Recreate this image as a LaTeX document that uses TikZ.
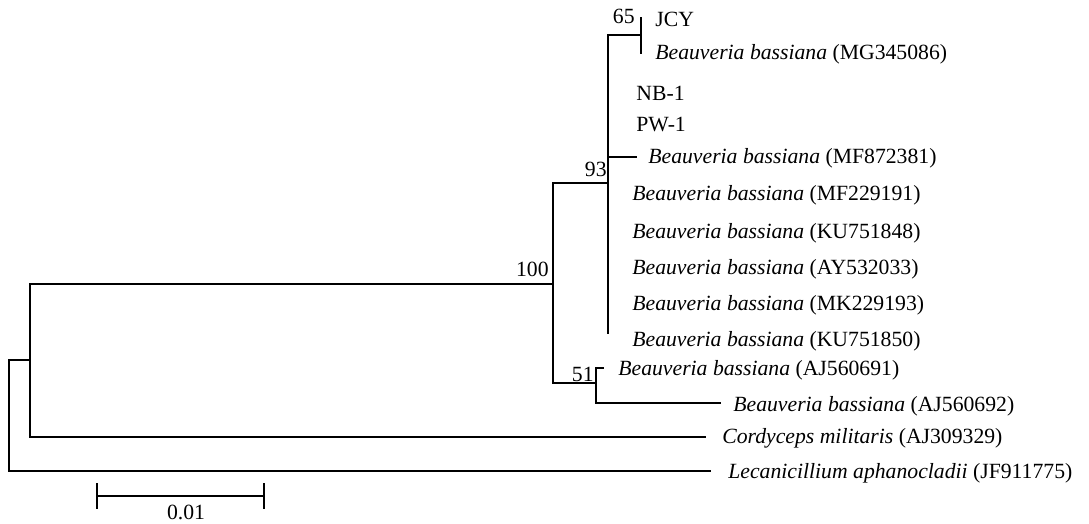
\documentclass[tikz,border=0pt]{standalone}
\usepackage{fontspec}
\setmainfont{Liberation Serif}
\begin{document}
\begin{tikzpicture}[x=0.5pt,y=-0.5pt,
  br/.style={line width=0.9pt,line cap=rect},
  lab/.style={anchor=base west,inner sep=0pt,font=\fontsize{10.85}{13}\selectfont},
  bs/.style={anchor=base east,inner sep=0pt,font=\fontsize{10.85}{13}\selectfont}]
\useasboundingbox[fill=white] (0,0) rectangle (1089,524);
% internal nodes
\coordinate (r) at (9,360);
\coordinate (a) at (30,360);
\coordinate (b) at (553,284);
\coordinate (c) at (608,183);
\coordinate (d) at (641,35);
\coordinate (e) at (596,383);
% leaf ends
\coordinate (lJCY) at (641,18);
\coordinate (lMG) at (641,53);
\coordinate (lMF8) at (636,157);
\coordinate (cbot) at (608,333);
\coordinate (lAJ1) at (603,368);
\coordinate (lAJ2) at (720,403);
\coordinate (lCor) at (705,437);
\coordinate (lLec) at (710,471);
% labels
\node[lab] (t1) at (655,27) {JCY};
\node[lab] (t2) at (655,60) {\textit{Beauveria bassiana} (MG345086)};
\node[lab] (t3) at (636,101) {NB-1};
\node[lab] (t4) at (636,132) {PW-1};
\node[lab] (t5) at (648,164) {\textit{Beauveria bassiana} (MF872381)};
\node[lab] (t6) at (632,201) {\textit{Beauveria bassiana} (MF229191)};
\node[lab] (t7) at (632,239) {\textit{Beauveria bassiana} (KU751848)};
\node[lab] (t8) at (632,275) {\textit{Beauveria bassiana} (AY532033)};
\node[lab] (t9) at (632,311) {\textit{Beauveria bassiana} (MK229193)};
\node[lab] (t10) at (632,347) {\textit{Beauveria bassiana} (KU751850)};
\node[lab] (t11) at (618,376) {\textit{Beauveria bassiana} (AJ560691)};
\node[lab] (t12) at (733,411) {\textit{Beauveria bassiana} (AJ560692)};
\node[lab] (t13) at (722,444) {\textit{Cordyceps militaris} (AJ309329)};
\node[lab] (t14) at (728,478) {\textit{Lecanicillium aphanocladii} (JF911775)};
% bootstrap values
\node[bs] (b65) at (635,24) {65};
\node[bs] (b93) at (607,177) {93};
\node[bs] (b100) at (549,277) {100};
\node[bs] (b51) at (594,381) {51};
% tree
\draw[br] (lLec) -| (r) -- (a);
\draw[br] (lCor) -| (a) |- (b);
\draw[br] (e) -| (b) |- (c);
\draw[br] (cbot) -- (c) |- (d);
\draw[br] (c) |- (lMF8);
\draw[br] (lJCY) -- (lMG);
\draw[br] (lAJ1) -| (e) |- (lAJ2);
% scale bar
\coordinate (s1) at (97,496);
\coordinate (s2) at (264,496);
\draw[br] (s1) -- (s2);
\draw[br] ([yshift=6]s1) -- ([yshift=-6]s1);
\draw[br] ([yshift=6]s2) -- ([yshift=-6]s2);
\node[anchor=base,inner sep=0pt,font=\fontsize{10.85}{13}\selectfont] (sl) at (186,519) {0.01};
\end{tikzpicture}
\end{document}
